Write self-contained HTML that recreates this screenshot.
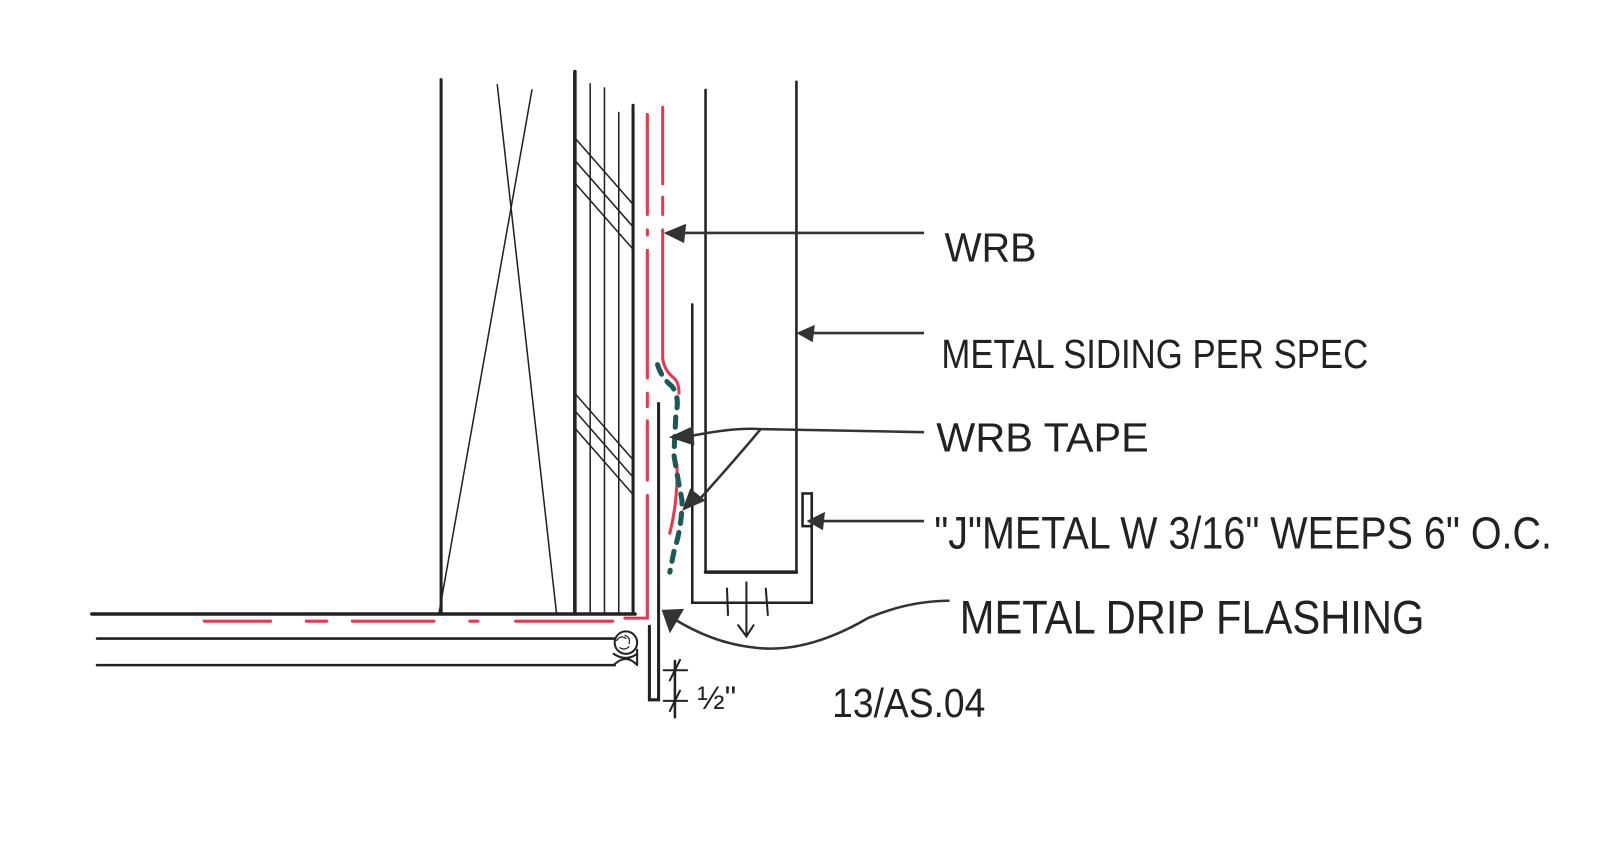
<!DOCTYPE html>
<html><head><meta charset="utf-8"><style>
html,body{margin:0;padding:0;background:#fff}
svg{display:block}
text{font-family:"Liberation Sans",sans-serif;fill:#222}
</style></head><body>
<svg width="1600" height="849" viewBox="0 0 1567 831" preserveAspectRatio="none" xmlns="http://www.w3.org/2000/svg">
<g stroke="#222" fill="none" stroke-linecap="round">
<line x1="432" y1="78" x2="432" y2="601" stroke-width="3"/>
<line x1="487" y1="83" x2="545" y2="600" stroke-width="1.5"/>
<line x1="521" y1="88" x2="430" y2="600" stroke-width="1.5"/>
<line x1="563" y1="70" x2="563" y2="601" stroke-width="3.5"/>
<line x1="578" y1="82" x2="578" y2="601" stroke-width="1.5"/>
<line x1="592" y1="86" x2="592" y2="601" stroke-width="1.5"/>
<line x1="606" y1="110" x2="606" y2="601" stroke-width="1.5"/>
<line x1="620" y1="103" x2="620" y2="601" stroke-width="3"/>
<g stroke-width="1.5">
<line x1="563" y1="135" x2="620" y2="200"/><line x1="563" y1="157" x2="620" y2="222"/><line x1="563" y1="179" x2="620" y2="244"/>
<line x1="563" y1="385" x2="620" y2="450"/><line x1="563" y1="402" x2="620" y2="467"/><line x1="563" y1="419" x2="620" y2="484"/>
</g>
<line x1="90" y1="601" x2="622" y2="601" stroke-width="3.5"/>
<line x1="95" y1="625" x2="602" y2="625" stroke-width="2.5"/>
<line x1="95" y1="651" x2="602" y2="651" stroke-width="2.5"/>
<circle cx="613" cy="629" r="11" stroke-width="2"/>
<path d="M604 627 q4-6 9-2 M612 622 q6 2 4 8 M607 634 q5 3 9-1" stroke-width="1.2"/>
<path d="M601 640 q12 8 23 0 M601 651 q12-12 23 0 M624 636 L624 651" stroke-width="2"/>
<path d="M636 613 L636 685 L645 685 L645 395" stroke-width="3"/>
<line x1="691" y1="88" x2="691" y2="560" stroke-width="2.5"/>
<line x1="780" y1="80" x2="780" y2="560" stroke-width="2.5"/>
<line x1="691" y1="560" x2="780" y2="560" stroke-width="3.5"/>
<path d="M678 298 L678 590 L795 590 L795 483" stroke-width="2.5"/>
<rect x="786" y="483" width="9" height="32" stroke-width="2.5"/>
<line x1="712" y1="576" x2="713" y2="602" stroke-width="2"/>
<line x1="750" y1="576" x2="752" y2="602" stroke-width="2"/>
<path d="M731 570 L731 622 M723 612 L731 623 L738 612" stroke-width="2"/>
<line x1="661" y1="647" x2="661" y2="702" stroke-width="2.5"/>
<path d="M650 656 L673 656 M656 666 L666 646 M650 686 L673 686 M656 696 L666 676" stroke-width="2"/>
</g>
<g stroke="#e8384f" fill="none" stroke-width="3" stroke-linecap="round">
<path d="M634 112 L634 210 M634 225 L634 230 M634 245 L634 370 M634 385 L634 398 M634 412 L634 470 M634 485 L634 605 L612 605"/>
<path d="M649 105 L649 180 M649 193 L649 210 M649 225 L649 350 Q650 362 660 370 Q665 374 665 385"/>
<path d="M663 455 Q664 490 656 522"/>
<path d="M200 608 L265 608 M300 608 L320 608 M345 608 L425 608 M460 608 L468 608 M505 608 L600 608"/>
</g>
<path d="M644 357 Q648 370 658 378 Q666 388 662 405 L660 445 Q664 470 668 490 Q668 515 660 540 L656 560" stroke="#1a5c55" stroke-width="5" fill="none" stroke-dasharray="10 9" stroke-linecap="round"/>
<g stroke="#333" fill="none" stroke-width="2.5">
<line x1="668" y1="228" x2="905" y2="228"/>
<line x1="795" y1="326" x2="905" y2="326"/>
<path d="M675 427 Q720 418 745 420 L905 423"/>
<path d="M745 420 Q720 450 684 490"/>
<line x1="804" y1="510" x2="905" y2="510"/>
<path d="M662 607 Q700 630 740 634 Q790 640 850 605 Q890 588 930 588"/>
</g>
<g fill="#333">
<polygon points="650,228 672,219 670,238"/>
<polygon points="780,326 798,318 796,335"/>
<polygon points="655,428 679,417 680,436"/>
<polygon points="668,500 676,478 691,490"/>
<polygon points="790,510 808,501 806,519"/>
<polygon points="648,597 670,596 656,620"/>
</g>
<g font-size="40">
<text x="925" y="256" textLength="90" lengthAdjust="spacingAndGlyphs">WRB</text>
<text x="922" y="360" textLength="418" lengthAdjust="spacingAndGlyphs">METAL SIDING PER SPEC</text>
<text x="917" y="442" textLength="208" lengthAdjust="spacingAndGlyphs">WRB TAPE</text>
<text x="915" y="537" textLength="605" lengthAdjust="spacingAndGlyphs" font-size="44">"J"METAL W 3/16" WEEPS 6" O.C.</text>
<text x="940" y="620" textLength="455" lengthAdjust="spacingAndGlyphs" font-size="46">METAL DRIP FLASHING</text>
<text x="683" y="694" font-size="32">½"</text>
<text x="815" y="702" textLength="150" lengthAdjust="spacingAndGlyphs">13/AS.04</text>
</g>
</svg>
</body></html>
